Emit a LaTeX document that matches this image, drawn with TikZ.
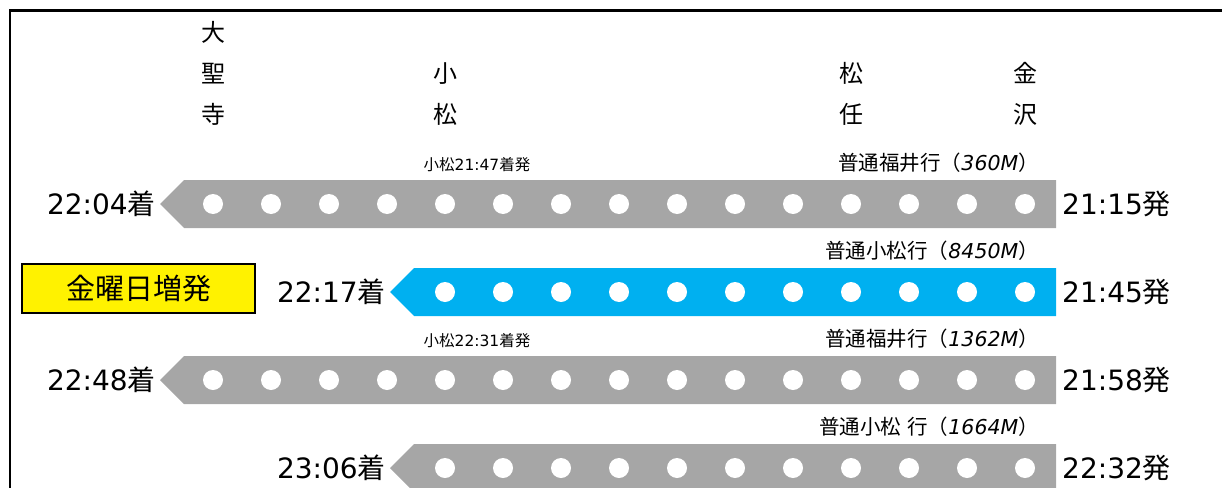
\documentclass[tikz,border=0pt]{standalone}
\usepackage{fontspec}
\setmainfont{Noto Sans CJK JP}[ItalicFont={Noto Sans CJK JP}, ItalicFeatures={FakeSlant=0.2}]
\newfontfamily\latin{DejaVu Sans}
\usetikzlibrary{calc}
\definecolor{BarGrey}{HTML}{A6A6A6}
\definecolor{BarBlue}{HTML}{00B0F0}
\newcommand{\Half}{24}
\newcommand{\Num}[1]{{\latin #1}}
\tikzset{StationName/.style={
    inner sep=0pt,
    anchor=south,
    align=center,
    font={\fontsize{24}{41}\selectfont}
    }
}
\tikzset{TimeArr/.style={
    inner sep=0pt,
    anchor=east,
    font={\fontsize{28}{30}\selectfont}
    }
}
\tikzset{TimeDep/.style={
    inner sep=0pt,
    anchor=west,
    font={\fontsize{28}{30}\selectfont}
    }
}
\tikzset{TrainName/.style={
    inner sep=0pt,
    anchor=east,
    font={\fontsize{20.5}{21}\selectfont}
    }
}
\tikzset{StopNote/.style={
    inner sep=0pt,
    font={\fontsize{15.5}{16}\selectfont}
    }
}
\tikzset{Dot/.style={
    circle,
    inner sep=0pt,
    minimum size=20pt,
    fill=white
    }
}
\tikzset{YellowBox/.style={
    inner sep=0pt,
    minimum width=233pt,
    minimum height=49pt,
    draw=black,
    line width=1.5pt,
    fill=yellow,
    font={\fontsize{29}{30}\selectfont}
    }
}

\begin{document}
\begin{tikzpicture}[x=1pt,y=-1pt]
    \useasboundingbox (0,0) rectangle (1222,487);
    \clip (0,0) rectangle (1222,487);
    \draw[line width=2.5pt] (10,10.5) rectangle (1240,520);

    % stations
    \node (daishoji) [StationName] at (213,126) {大\\聖\\寺};
    \node (komatsu) [StationName] at (445,126) {小\\松};
    \node (matto) [StationName] at (851,126) {松\\任};
    \node (kanazawa) [StationName] at (1025,126) {金\\沢};

    % 360M
    \coordinate (r1) at (1056,204);
    \fill[BarGrey] (r1) ++(0,-\Half) -- (184,180) -- (160,204) -- (184,228) -- ($(r1)+(0,\Half)$) -- cycle;
    \foreach \k in {0,...,14}
        \node (a\k) [Dot] at (213+58*\k,204) {};
    \node (arr1) [TimeArr] at (156,204) {\Num{22:04}着};
    \node (dep1) [TimeDep] at (1062,204) {\Num{21:15}発};
    \node (name1) [TrainName] at (1039,163) {普通福井行（\textit{\Num{360M}}）};
    \node (note1) [StopNote] at (477,165) {小松\Num{21:47}着発};

    % 8450M
    \coordinate (r2) at (1056,292);
    \fill[BarBlue] (r2) ++(0,-\Half) -- (414,268) -- (390,292) -- (414,316) -- ($(r2)+(0,\Half)$) -- cycle;
    \foreach \k in {4,...,14}
        \node (b\k) [Dot] at (213+58*\k,292) {};
    \node (arr2) [TimeArr] at (386,292) {\Num{22:17}着};
    \node (dep2) [TimeDep] at (1062,292) {\Num{21:45}発};
    \node (name2) [TrainName] at (1039,251) {普通小松行（\textit{\Num{8450M}}）};
    \node (extra) [YellowBox] at (138.5,288.5) {金曜日増発};

    % 1362M
    \coordinate (r3) at (1056,380);
    \fill[BarGrey] (r3) ++(0,-\Half) -- (184,356) -- (160,380) -- (184,404) -- ($(r3)+(0,\Half)$) -- cycle;
    \foreach \k in {0,...,14}
        \node (c\k) [Dot] at (213+58*\k,380) {};
    \node (arr3) [TimeArr] at (156,380) {\Num{22:48}着};
    \node (dep3) [TimeDep] at (1062,380) {\Num{21:58}発};
    \node (name3) [TrainName] at (1039,339) {普通福井行（\textit{\Num{1362M}}）};
    \node (note3) [StopNote] at (477,341) {小松\Num{22:31}着発};

    % 1664M
    \coordinate (r4) at (1056,468);
    \fill[BarGrey] (r4) ++(0,-\Half) -- (414,444) -- (390,468) -- (414,492) -- ($(r4)+(0,\Half)$) -- cycle;
    \foreach \k in {4,...,14}
        \node (d\k) [Dot] at (213+58*\k,468) {};
    \node (arr4) [TimeArr] at (386,468) {\Num{23:06}着};
    \node (dep4) [TimeDep] at (1062,468) {\Num{22:32}発};
    \node (name4) [TrainName] at (1039,427) {普通小松\hspace{0.3em}行（\textit{\Num{1664M}}）};
\end{tikzpicture}
\end{document}
